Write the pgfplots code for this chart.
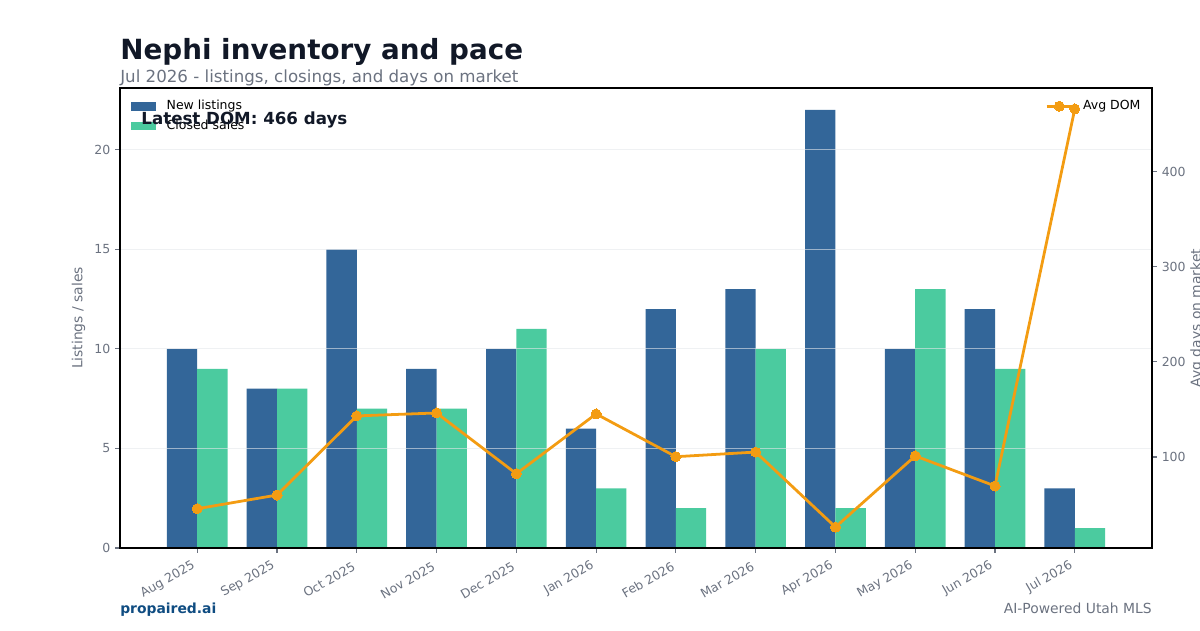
\documentclass[border=0pt]{standalone}
\usepackage{pgfplots}
\usepackage{pgfplotstable}
\pgfplotsset{compat=1.18}
\usepackage{fontspec}
\setmainfont{DejaVu Sans}

\definecolor{listc}{HTML}{336699}
\definecolor{salec}{HTML}{4BCB9F}
\definecolor{domc}{HTML}{F39C12}
\definecolor{titlec}{HTML}{111827}
\definecolor{mutedc}{HTML}{6B7280}
\definecolor{brandc}{HTML}{0F4C81}
\definecolor{gridc}{HTML}{E5E7EB}

% month index, new listings, closed sales, average days on market
\pgfplotstableread{
idx new closed dom
0   10  9      45.6
1   8   8      60.0
2   15  7      143.2
3   9   7      146.3
4   10  11     82.4
5   6   3      145.3
6   12  2      100.3
7   13  10     105.2
8   22  2      26.3
9   10  13     101.1
10  12  9      69.5
11  3   1      466
}\monthly

\begin{document}
\begin{tikzpicture}[x=0.72pt,y=0.72pt]
\useasboundingbox (0,0) rectangle (1200,630);

\pgfplotsset{
  panel/.style={
    at={(86.4pt,59.04pt)}, anchor=south west,
    scale only axis, width=743.04pt, height=331.2pt,
    xmin=-0.968, xmax=11.968,
    tick align=outside,
    major tick length=3.5pt,
    tick style={color=mutedc, line width=0.8pt},
    tick label style={text=mutedc, font=\fontsize{9}{10.8}\selectfont},
    label style={text=mutedc, font=\fontsize{10}{12}\selectfont},
    /pgf/number format/assume math mode=true,
    axis line style={black, line width=0.8pt},
    legend cell align=left,
  },
}

% Bars: listings and closings on the left axis
\begin{axis}[panel,
  ymin=0, ymax=23.1,
  ytick={0,5,10,15,20},
  xtick={0,...,11},
  xticklabels={Aug 2025,Sep 2025,Oct 2025,Nov 2025,Dec 2025,Jan 2026,Feb 2026,Mar 2026,Apr 2026,May 2026,Jun 2026,Jul 2026},
  xtick pos=left, ytick pos=left,
  xticklabel style={yshift=-12pt, rotate=30, anchor=south east, inner sep=0pt},
  ymajorgrids,
  major grid style={color=gridc, opacity=0.6, line width=0.6pt},
  axis on top,
  ylabel={Listings / sales},
  ylabel style={at={(rel axis cs:0,0.5)}, anchor=center, yshift=29.9pt},
  legend style={at={(0,1)}, anchor=north west, xshift=7.6pt, yshift=-8.7pt,
    draw=none, fill=none, inner sep=0pt,
    font=\fontsize{9}{10.8}\selectfont,
    nodes={inner sep=0pt, text height=6.8pt, text depth=2pt},
    row sep=5.1pt, column sep=0pt},
  legend image code/.code={\fill[#1] (0pt,-3pt) rectangle (17.8pt,3pt); \path (25.8pt,0pt);},
]
\addplot[ybar, bar width=0.38, bar shift=-0.19, fill=listc, draw=none] table[x=idx, y=new] {\monthly};
\addlegendentry{New listings}
\addplot[ybar, bar width=0.38, bar shift=0.19, fill=salec, draw=none] table[x=idx, y=closed] {\monthly};
\addlegendentry{Closed sales}
\end{axis}

% Line: average days on market on the right axis
\begin{axis}[panel,
  ymin=4.3, ymax=488,
  axis x line=none,
  axis y line*=right,
  ytick={100,200,300,400},
  ylabel={Avg days on market},
  ylabel style={at={(rel axis cs:1,0.5)}, anchor=center, yshift=-32.4pt},
  legend style={at={(1,1)}, anchor=north east, xshift=-8.1pt, yshift=-8.5pt,
    draw=none, fill=none, inner sep=0pt,
    font=\fontsize{9}{10.8}\selectfont,
    nodes={inner sep=0pt, text height=6.8pt, text depth=2pt}},
  legend image code/.code={\draw[mark repeat=2, mark phase=2, #1] plot coordinates {(0pt,0pt) (9pt,0pt) (18pt,0pt)}; \path (25.2pt,0pt);},
]
\addplot[color=domc, line width=2pt, mark=*, mark size=3.6pt, mark options={fill=domc, draw=domc, line width=0pt}] table[x=idx, y=dom] {\monthly};
\addlegendentry{Avg DOM}
\node[anchor=base west, inner sep=0pt, text=titlec, font=\fontsize{12}{14}\bfseries\selectfont] at (rel axis cs:0.0205,0.9196) {Latest DOM: 466 days};
\end{axis}

% Heading and footer
\node[anchor=base west, inner sep=0pt, text=titlec, font=\fontsize{20}{24}\bfseries\selectfont] at (120,570.5) {Nephi inventory and pace};
\node[anchor=base west, inner sep=0pt, text=mutedc, font=\fontsize{12}{14}\selectfont] at (120,547) {Jul 2026 - listings, closings, and days on market};
\node[anchor=base west, inner sep=0pt, text=brandc, font=\fontsize{10}{12}\bfseries\selectfont] at (120,17) {propaired.ai};
\node[anchor=base east, inner sep=0pt, text=mutedc, font=\fontsize{10}{12}\selectfont] at (1152,17) {AI-Powered Utah MLS};
\end{tikzpicture}
\end{document}
